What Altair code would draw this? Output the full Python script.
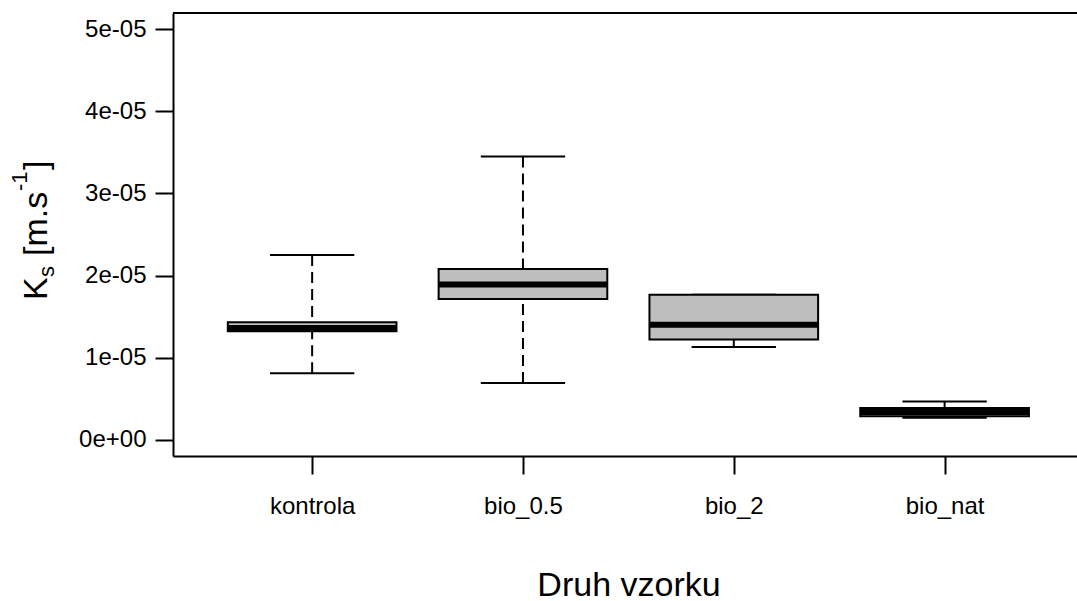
import altair as alt
import pandas as pd

categories = ["kontrola", "bio_0.5", "bio_2", "bio_nat"]
whisker_low = [0.81e-05, 0.69e-05, 1.13e-05, 0.265e-05]
q1 = [1.32e-05, 1.715e-05, 1.22e-05, 0.285e-05]
median = [1.36e-05, 1.89e-05, 1.40e-05, 0.335e-05]
q3 = [1.43e-05, 2.08e-05, 1.765e-05, 0.385e-05]
whisker_high = [2.25e-05, 3.45e-05, 1.765e-05, 0.465e-05]

y_ticks = [0, 1e-05, 2e-05, 3e-05, 4e-05, 5e-05]
y_labels = ["0e+00", "1e-05", "2e-05", "3e-05", "4e-05", "5e-05"]

df = pd.DataFrame({
    "cat": categories,
    "pos": list(range(1, len(categories) + 1)),
    "wlo": whisker_low,
    "q1": q1,
    "med": median,
    "q3": q3,
    "whi": whisker_high,
})

FONT = "Liberation Sans"
W, H = 904, 443

xscale = alt.Scale(domain=[0.34, 4.628], nice=False, zero=False)
yscale = alt.Scale(domain=[-0.2e-05, 5.2e-05], nice=False, zero=False)

lab_expr = "[" + ",".join(f"'{c}'" for c in categories) + "][round(datum.value) - 1]"
ylab_expr = "[" + ",".join(f"'{l}'" for l in y_labels) + "][round(datum.value * 100000)]"

xaxis = alt.Axis(values=[1, 2, 3, 4], labelExpr=lab_expr, title="Druh vzorku",
                 grid=False, tickSize=18, tickWidth=2, tickColor="black",
                 domainColor="black", domainWidth=2,
                 labelFont=FONT, labelFontSize=24, labelColor="black",
                 labelBaseline="alphabetic", labelPadding=39,
                 titleFont=FONT, titleFontSize=34, titleFontWeight="normal", titleColor="black",
                 titleX=455.5, titleY=139, titleBaseline="alphabetic", titleAlign="center")
yaxis = alt.Axis(values=y_ticks, labelExpr=ylab_expr, title=None,
                 grid=False, tickSize=18, tickWidth=2, tickColor="black",
                 domainColor="black", domainWidth=2,
                 labelFont=FONT, labelFontSize=24, labelColor="black",
                 labelPadding=9, labelBaseline="middle")

base = alt.Chart(df).transform_calculate(
    xl="datum.pos - 0.4", xr="datum.pos + 0.4",
    cl="datum.pos - 0.2", cr="datum.pos + 0.2",
)

whisk_lo = base.mark_rule(strokeDash=[11, 6], strokeWidth=2, color="black").encode(
    x=alt.X("pos:Q", scale=xscale, axis=xaxis),
    y=alt.Y("wlo:Q", scale=yscale, axis=yaxis),
    y2="q1:Q",
)
whisk_hi = base.mark_rule(strokeDash=[11, 6], strokeWidth=2, color="black").encode(
    x=alt.X("pos:Q", scale=xscale), y=alt.Y("whi:Q", scale=yscale), y2="q3:Q",
)
cap_lo = base.mark_rule(strokeWidth=2, color="black").encode(
    x=alt.X("cl:Q", scale=xscale), x2="cr:Q", y=alt.Y("wlo:Q", scale=yscale),
)
cap_hi = base.mark_rule(strokeWidth=2, color="black").encode(
    x=alt.X("cl:Q", scale=xscale), x2="cr:Q", y=alt.Y("whi:Q", scale=yscale),
)
box = base.mark_rect(fill="#BEBEBE", stroke="black", strokeWidth=2).encode(
    x=alt.X("xl:Q", scale=xscale), x2="xr:Q",
    y=alt.Y("q1:Q", scale=yscale), y2="q3:Q",
)
med = base.mark_rule(strokeWidth=6, color="black", strokeCap="butt").encode(
    x=alt.X("xl:Q", scale=xscale), x2="xr:Q", y=alt.Y("med:Q", scale=yscale),
)
top_line = alt.Chart(df).mark_rule(strokeWidth=2, color="black").encode(
    x=alt.value(0), x2=alt.value(W), y=alt.value(0)
)

# y-axis title with subscript/superscript pieces (rotated)
title_pieces = ["K", "s", "[m.s", "-1", "]"]
piece_sizes = [34, 22, 34, 22, 34]
piece_dx = [0, 23, 44, 109, 130]
piece_dy = [0, 7, 0, -20, 0]
title_layers = []
for t, s, dx, dy in zip(title_pieces, piece_sizes, piece_dx, piece_dy):
    title_layers.append(
        alt.Chart(df).transform_filter("datum.pos == 1").mark_text(
            text=t, font=FONT, fontSize=s, angle=270, align="left",
            baseline="alphabetic", dx=dx, dy=dy, color="black"
        ).encode(x=alt.value(47 - 173), y=alt.value(300 - 13))
    )

chart = alt.layer(whisk_lo, whisk_hi, cap_lo, cap_hi, box, med, top_line, *title_layers).properties(
    width=W, height=H,
    autosize=alt.AutoSizeParams(type="none"),
    padding={"left": 173, "top": 13, "right": 0, "bottom": 145},
).configure_view(stroke=None).configure(background="white")

chart.save("out.html", embed_options={"renderer": "svg", "actions": False})
